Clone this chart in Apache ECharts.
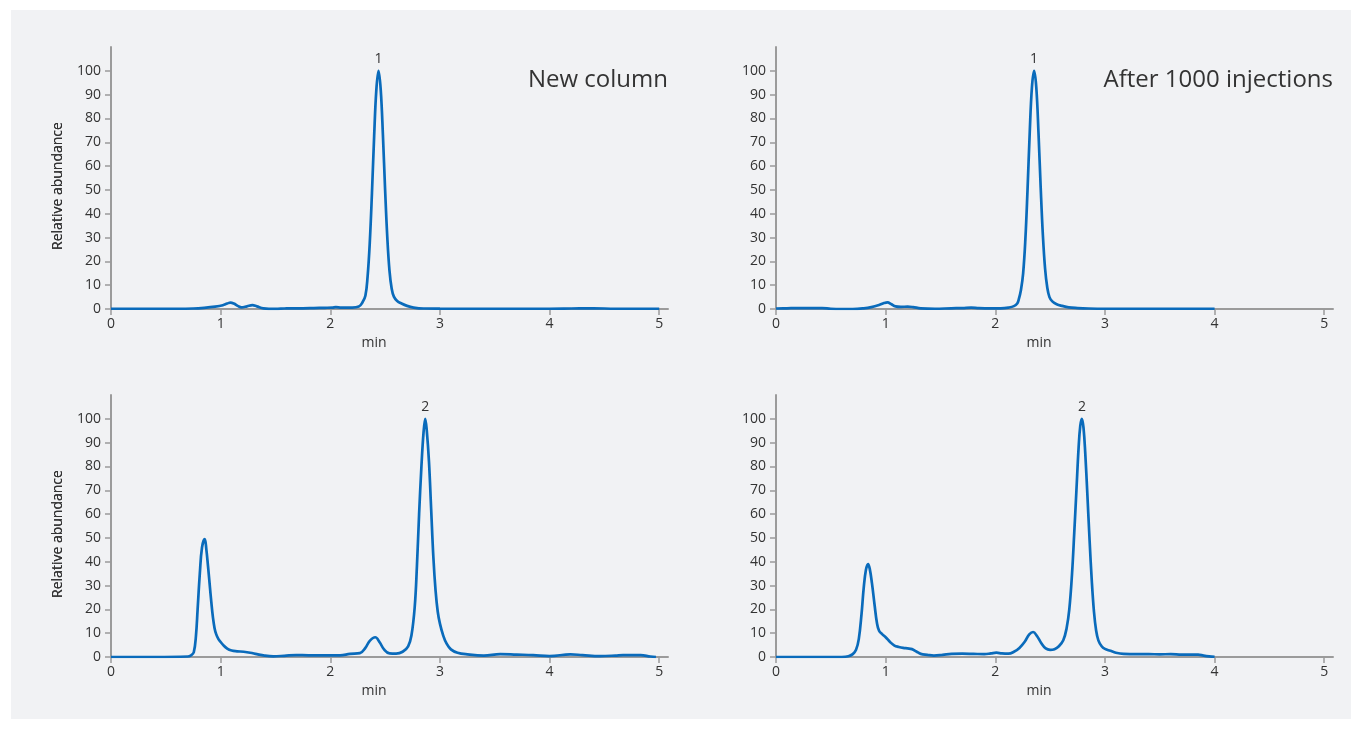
<!DOCTYPE html>
<html>
<head>
<meta charset="utf-8">
<script src="https://cdn.jsdelivr.net/npm/echarts@6/dist/echarts.min.js"></script>
<style>
html,body{margin:0;padding:0;background:#fff;}
#chart{width:1362px;height:729px;}
</style>
</head>
<body>
<div id="chart"></div>
<script>
// ---- data (minutes, relative abundance) ----
const xTicks = [0, 1, 2, 3, 4, 5];
const yTicks = [0, 10, 20, 30, 40, 50, 60, 70, 80, 90, 100];

const newColumnPeak1 = [
  [0,0.1],[0.3,0.1],[0.6,0.1],[0.75,0.2],[0.85,0.5],[0.95,1.0],[1.02,1.6],[1.06,2.3],[1.09,2.7],[1.12,2.3],
  [1.16,1.2],[1.19,0.7],[1.24,1.1],[1.29,1.6],[1.33,1.1],[1.39,0.3],[1.5,0.05],[1.58,0.2],[1.66,0.3],[1.75,0.3],
  [1.85,0.4],[1.95,0.5],[2.02,0.6],[2.05,0.8],[2.1,0.6],[2.2,0.6],[2.26,1],[2.29,2.5],[2.32,5.6],[2.34,13.5],
  [2.36,27.8],[2.38,48.7],[2.40,72.6],[2.42,92],[2.44,100],[2.46,92],[2.48,73],[2.50,50],[2.52,30],[2.54,16],
  [2.56,8.5],[2.58,5.2],[2.61,3.4],[2.65,2.3],[2.7,1.3],[2.76,0.6],[2.85,0.2],[3,0.15],[3.5,0.1],[4,0.1],
  [4.2,0.2],[4.4,0.3],[4.6,0.1],[5,0.1]
];
const afterInjPeak1 = [
  [0,0.2],[0.1,0.3],[0.2,0.4],[0.3,0.4],[0.42,0.4],[0.5,0.1],[0.6,0],[0.7,0],[0.8,0.3],[0.87,0.8],
  [0.94,1.7],[0.985,2.5],[1.017,2.8],[1.05,2.1],[1.09,1.1],[1.14,0.9],[1.2,1.0],[1.25,0.8],[1.32,0.3],[1.45,0.1],
  [1.6,0.3],[1.7,0.4],[1.78,0.6],[1.85,0.4],[1.95,0.3],[2.05,0.3],[2.12,0.6],[2.17,1.2],[2.2,2.3],[2.214,4],
  [2.234,8],[2.254,15],[2.274,29],[2.294,50],[2.314,74],[2.334,93],[2.354,100],[2.374,93],[2.394,74],[2.414,51],
  [2.434,31],[2.454,17],[2.474,9],[2.494,5],[2.52,3.2],[2.56,2],[2.61,1.3],[2.67,0.7],[2.75,0.4],[2.85,0.2],
  [3,0.1],[3.5,0.1],[4,0.1]
];
const newColumnPeak2 = [
  [0,0],[0.4,0],[0.7,0.2],[0.73,0.7],[0.755,2],[0.775,9],[0.79,20],[0.81,35],[0.83,46],[0.855,49.5],
  [0.87,45],[0.885,38],[0.9,30.5],[0.915,23],[0.93,16.5],[0.945,12],[0.96,9.5],[0.98,7.5],[1.0,6.3],[1.02,5.2],
  [1.06,3.5],[1.1,2.7],
  [1.15,2.4],[1.21,2.2],[1.27,1.8],[1.33,1.2],[1.4,0.6],[1.48,0.3],[1.58,0.5],[1.69,0.8],[1.8,0.7],[1.94,0.7],
  [2.09,0.7],[2.18,1.3],[2.27,1.6],[2.32,3.8],[2.36,6.8],[2.41,8.3],[2.45,6.2],[2.49,3.2],[2.54,1.5],[2.6,1.4],
  [2.66,2.2],[2.71,4.5],[2.74,9],[2.77,21],[2.79,38],[2.81,60],[2.83,79],[2.85,94],[2.866,100],[2.88,95],
  [2.9,82],[2.92,62],[2.94,42],[2.96,28],[2.98,19],[3.0,14],[3.03,9],[3.06,5.7],[3.1,3.2],[3.16,1.8],
  [3.25,1.1],[3.4,0.6],[3.55,1.2],[3.7,1.0],[3.85,0.8],[4.0,0.4],[4.19,1.1],[4.3,0.8],[4.46,0.4],[4.6,0.6],
  [4.67,0.8],[4.83,0.8],[4.92,0.2],[4.97,0]
];
const afterInjPeak2 = [
  [0,0],[0.3,0],[0.6,0],[0.66,0.3],[0.7,1.2],[0.73,3],[0.755,7.5],[0.78,18],[0.8,29],[0.82,36.5],
  [0.84,39],[0.855,37],[0.875,31],[0.9,21.5],[0.92,14.5],[0.94,11],[0.97,9.5],[1.0,8.3],[1.04,6.3],[1.08,4.8],
  [1.12,4.2],[1.16,3.8],[1.2,3.6],[1.24,3.3],[1.28,2.3],[1.32,1.3],[1.38,0.9],[1.44,0.6],[1.52,0.9],[1.6,1.3],
  [1.7,1.4],[1.8,1.3],[1.9,1.2],[1.96,1.5],[2.01,1.8],[2.06,1.5],[2.12,1.4],[2.17,2.2],[2.22,3.8],[2.27,6.5],
  [2.31,9.5],[2.345,10.5],[2.38,8.8],[2.42,5.8],[2.46,3.6],[2.5,3.0],[2.54,3.3],[2.58,4.5],[2.62,7],[2.65,12],
  [2.675,20],[2.7,35],[2.72,52],[2.74,70],[2.76,88],[2.775,97],[2.79,100],[2.805,96],[2.82,86],[2.84,68],
  [2.86,49],[2.88,32],[2.9,19],[2.92,11],[2.94,7],[2.97,4.5],[3.0,3.4],[3.05,2.6],[3.1,1.8],[3.17,1.3],
  [3.3,1.2],[3.4,1.2],[3.5,1.1],[3.6,1.2],[3.7,1],[3.8,1],[3.85,1],[3.9,0.6],[3.95,0.3],[4.0,0.1]
];
const traces = [newColumnPeak1, afterInjPeak1, newColumnPeak2, afterInjPeak2];
const peakLabels = [[2.44, 100, '1'], [2.354, 100, '1'], [2.866, 100, '2'], [2.79, 100, '2']];
const panelTitles = ['New column', 'After 1000 injections'];
const yAxisTitle = 'Relative abundance';
const xAxisTitle = 'min';

// ---- layout ----
const FONT = '"Open Sans", "Noto Sans", sans-serif';
const LINE = '#0a6bbb';
const AXIS = '#9b9b9b';
const TXT = '#333333';
const grids = [
  {left: 111, top: 47, width: 557, height: 262},
  {left: 776, top: 47, width: 557, height: 262},
  {left: 111, top: 395, width: 557, height: 262},
  {left: 776, top: 395, width: 557, height: 262}
];

const xAxes = grids.map((g, i) => ({
  type: 'value', gridIndex: i, min: 0, max: 5.08, interval: 1,
  axisLine: {show: true, onZero: false, lineStyle: {color: AXIS, width: 2}},
  axisTick: {show: true, length: 6, customValues: xTicks, lineStyle: {color: AXIS, width: 1.5}},
  axisLabel: {show: true, customValues: xTicks, color: TXT, fontSize: 14, fontFamily: FONT, margin: 8},
  splitLine: {show: false}
}));
const yAxes = grids.map((g, i) => ({
  type: 'value', gridIndex: i, min: 0, max: 110, interval: 10,
  axisLine: {show: true, lineStyle: {color: AXIS, width: 2}},
  axisTick: {show: true, length: 6, customValues: yTicks, lineStyle: {color: AXIS, width: 1.5}},
  axisLabel: {show: true, customValues: yTicks, color: TXT, fontSize: 14, fontFamily: FONT, margin: 10},
  splitLine: {show: false}
}));

const series = traces.map((d, i) => ({
  type: 'line', xAxisIndex: i, yAxisIndex: i, data: d,
  showSymbol: false, smooth: 0.4,
  lineStyle: {color: LINE, width: 2.7}, itemStyle: {color: LINE},
  silent: true, z: 3,
  markPoint: {
    symbol: 'circle', symbolSize: 1, itemStyle: {color: 'rgba(0,0,0,0)'},
    label: {show: true, position: 'top', distance: 4, color: TXT, fontSize: 14, fontFamily: FONT,
            formatter: p => p.name},
    data: [{coord: [peakLabels[i][0], peakLabels[i][1]], name: peakLabels[i][2]}]
  }
}));

const graphics = [
  {type: 'rect', z: -10, shape: {x: 11, y: 10, width: 1340, height: 709}, style: {fill: '#f1f2f4'}, silent: true}
];
grids.forEach((g, i) => {
  graphics.push({type: 'text', x: 58, y: g.top + 139, rotation: Math.PI / 2,
    style: {text: yAxisTitle, align: 'center', verticalAlign: 'middle', font: '14px ' + FONT, fill: TXT}});
  graphics.push({type: 'text', x: g.left + 263, y: g.top + g.height + 34,
    style: {text: xAxisTitle, align: 'center', verticalAlign: 'middle', font: '14px ' + FONT, fill: TXT}});
});
graphics.push({type: 'text', x: 668, y: 80,
  style: {text: panelTitles[0], align: 'right', verticalAlign: 'middle', font: '24px ' + FONT, fill: TXT}});
graphics.push({type: 'text', x: 1333, y: 80,
  style: {text: panelTitles[1], align: 'right', verticalAlign: 'middle', font: '24px ' + FONT, fill: TXT}});

const chart = echarts.init(document.getElementById('chart'), null, {renderer: 'canvas'});
chart.setOption({
  backgroundColor: '#ffffff',
  animation: false,
  grid: grids,
  xAxis: xAxes,
  yAxis: yAxes,
  series: series,
  graphic: graphics
});
</script>
</body>
</html>
